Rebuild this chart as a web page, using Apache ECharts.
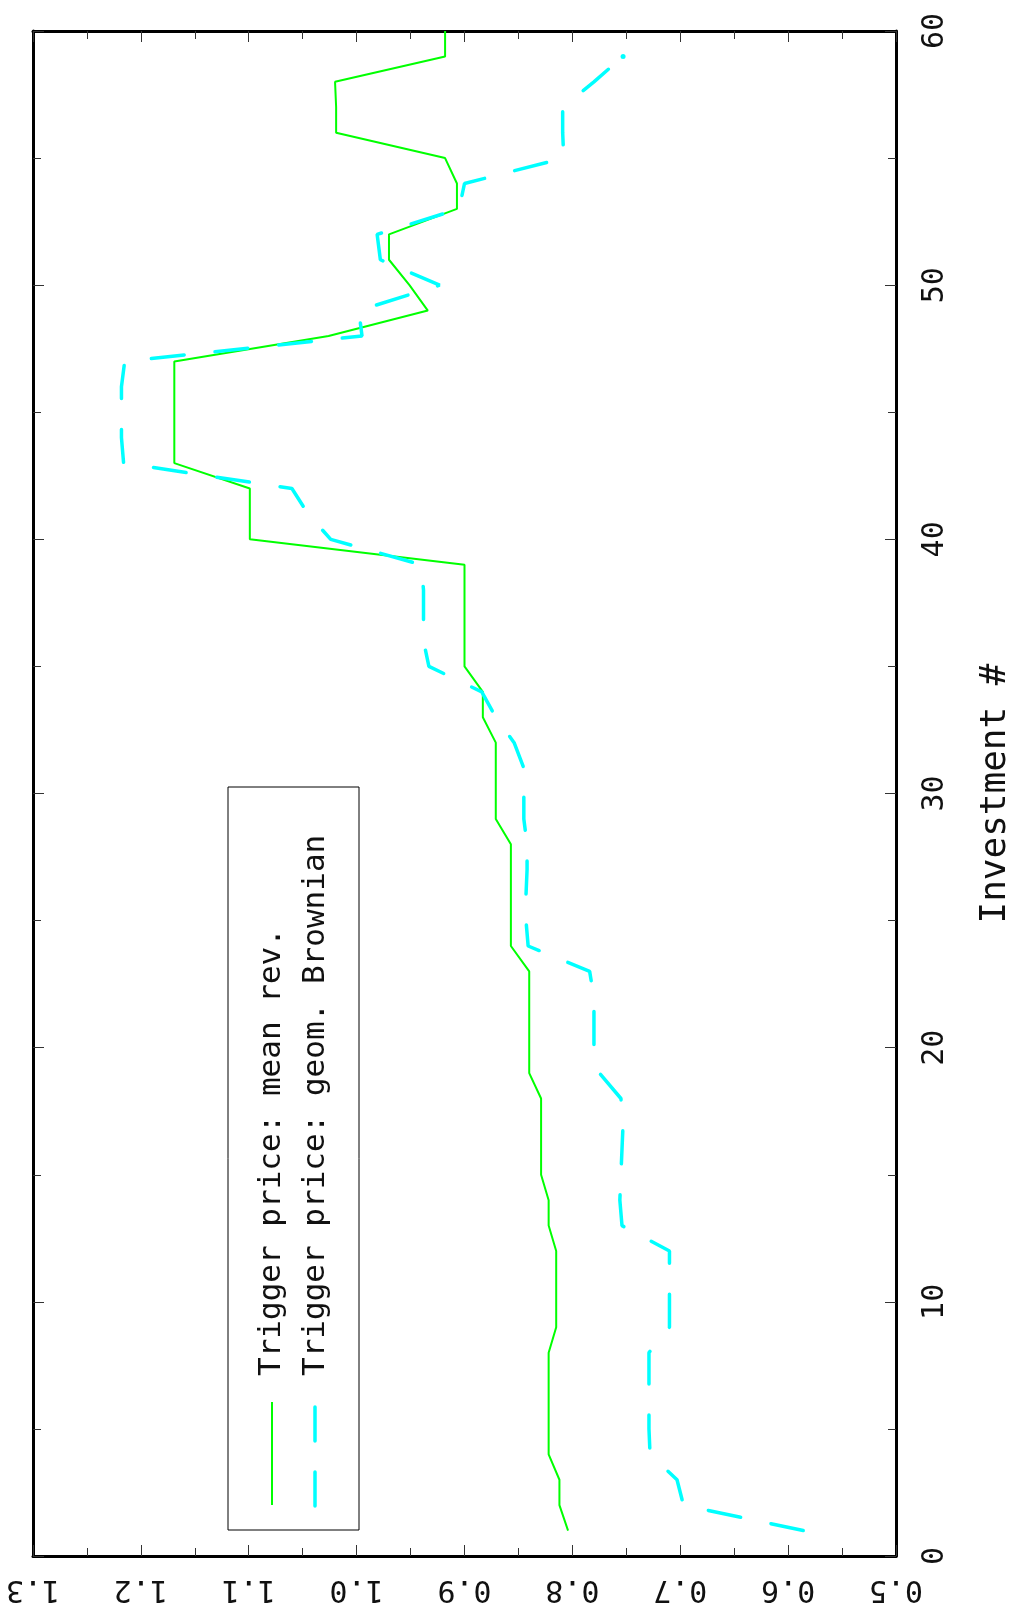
<!DOCTYPE html>
<html><head><meta charset="utf-8">
<script src="https://cdn.jsdelivr.net/npm/echarts@6/dist/echarts.min.js"></script>
<style>html,body{margin:0;padding:0;background:#fff}#c{width:1022px;height:1610px}</style>
</head><body><div id="c"></div>
<script>
// Investment number (vertical axis) and trigger prices (horizontal axis)
const investMeanRev = [1,2,3,4,5,6,7,8,9,10,11,12,13,14,15,16,17,18,19,20,21,22,23,24,25,26,27,28,29,30,31,32,33,34,35,36,37,38,39,40,41,42,43,44,45,46,47,48,49,50,51,52,53,54,55,56,57,58,59,60];
const priceMeanRev = [0.804,0.812,0.812,0.822,0.822,0.822,0.822,0.822,0.815,0.815,0.815,0.815,0.822,0.822,0.829,0.829,0.829,0.829,0.840,0.840,0.840,0.840,0.840,0.857,0.857,0.857,0.857,0.857,0.871,0.871,0.871,0.871,0.883,0.883,0.900,0.900,0.900,0.900,0.900,1.099,1.099,1.099,1.169,1.169,1.169,1.169,1.169,1.026,0.934,0.951,0.970,0.970,0.907,0.907,0.918,1.019,1.019,1.020,0.918,0.918];
const investGBM = [1,2,3,4,5,6,7,8,9,10,11,12,13,14,15,16,17,18,19,20,21,22,23,24,25,26,27,28,29,30,31,32,33,34,35,36,37,38,39,40,41,42,43,44,45,46,47,48,49,50,51,52,53,54,55,56,57,58,59];
const priceGBM = [0.586,0.697,0.703,0.728,0.729,0.729,0.729,0.729,0.710,0.710,0.710,0.710,0.754,0.756,0.755,0.754,0.753,0.755,0.775,0.780,0.780,0.780,0.784,0.841,0.843,0.843,0.842,0.842,0.845,0.845,0.845,0.854,0.871,0.884,0.933,0.938,0.938,0.938,0.940,1.024,1.045,1.060,1.216,1.218,1.218,1.218,1.215,0.995,0.998,0.923,0.978,0.981,0.905,0.900,0.808,0.809,0.809,0.780,0.753];
const seriesNames = ['Trigger price: mean rev.', 'Trigger price: geom. Brownian'];
const xAxisName = 'Investment #';

const FONT = 'DejaVu Sans Mono';
const chart = echarts.init(document.getElementById('c'), null, {renderer: 'canvas'});

function priceAxis(pos, showLabel) {
  return {
    type: 'value', position: pos, min: 0.5, max: 1.3, interval: 0.1, inverse: true,
    axisLine: {show: true, onZero: false, lineStyle: {color: '#000', width: 3}},
    axisTick: {show: true, inside: true, length: 11, lineStyle: {color: '#333', width: 1}},
    minorTick: {show: true, splitNumber: 2, length: 8, lineStyle: {color: '#333', width: 1}},
    splitLine: {show: false}, minorSplitLine: {show: false},
    axisLabel: {show: showLabel, rotate: 180, margin: 18, fontFamily: FONT, fontSize: 30, color: '#111',
      formatter: v => Number(v).toFixed(1)}
  };
}
function investAxis(pos, showLabel) {
  const a = {
    type: 'value', position: pos, min: 0, max: 60, interval: 10,
    axisLine: {show: true, onZero: false, lineStyle: {color: '#000', width: 3}},
    axisTick: {show: true, inside: true, length: 11, lineStyle: {color: '#333', width: 1}},
    minorTick: {show: true, splitNumber: 2, length: 8, lineStyle: {color: '#333', width: 1}},
    splitLine: {show: false}, minorSplitLine: {show: false},
    axisLabel: {show: showLabel, rotate: 90, margin: 24, fontFamily: FONT, fontSize: 30, color: '#111'}
  };
  if (showLabel) {
    a.name = xAxisName; a.nameLocation = 'middle'; a.nameRotate = 90; a.nameGap = 82;
    a.nameTextStyle = {fontFamily: FONT, fontSize: 36, color: '#111'};
  }
  return a;
}

const gbmData = investGBM.map((n, i) => {
  const last = i === investGBM.length - 1;
  return last ? {value: [priceGBM[i], n], symbol: 'circle', symbolSize: 5} : {value: [priceGBM[i], n], symbol: 'none'};
});

const option = {
  animation: false,
  backgroundColor: '#fff',
  grid: {left: 33, right: 119, top: 31, bottom: 54, containLabel: false},
  xAxis: [priceAxis('bottom', true), priceAxis('top', false)],
  yAxis: [investAxis('right', true), investAxis('left', false)],
  series: [
    {name: seriesNames[0], type: 'line', xAxisIndex: 0, yAxisIndex: 0, showSymbol: false, silent: true,
     data: investMeanRev.map((n, i) => [priceMeanRev[i], n]),
     lineStyle: {color: '#00ff00', width: 2}, itemStyle: {color: '#00ff00'}},
    {name: seriesNames[1], type: 'line', xAxisIndex: 0, yAxisIndex: 0, showSymbol: true, symbol: 'none', silent: true,
     data: gbmData,
     lineStyle: {color: '#00ffff', width: 3.5, type: [33, 31], cap: 'round'}, itemStyle: {color: '#00ffff', borderWidth: 0}}
  ],
  graphic: [
    {type: 'rect', shape: {x: 228, y: 787, width: 131, height: 743}, style: {fill: 'none', stroke: '#000', lineWidth: 1}},
    {type: 'line', shape: {x1: 272, y1: 1505, x2: 272, y2: 1402}, style: {stroke: '#00ff00', lineWidth: 2}},
    {type: 'line', shape: {x1: 315, y1: 1506, x2: 315, y2: 1402}, style: {stroke: '#00ffff', lineWidth: 3.5, lineDash: [34, 31], lineCap: 'round'}},
    {type: 'text', x: 272, y: 1376, rotation: Math.PI / 2,
     style: {text: seriesNames[0], fontFamily: FONT, fontSize: 31, fill: '#111', align: 'left', verticalAlign: 'middle', textAlign: 'left', textVerticalAlign: 'middle'}},
    {type: 'text', x: 316, y: 1376, rotation: Math.PI / 2,
     style: {text: seriesNames[1], fontFamily: FONT, fontSize: 31, fill: '#111', align: 'left', verticalAlign: 'middle', textAlign: 'left', textVerticalAlign: 'middle'}}
  ]
};
chart.setOption(option);
</script></body></html>
